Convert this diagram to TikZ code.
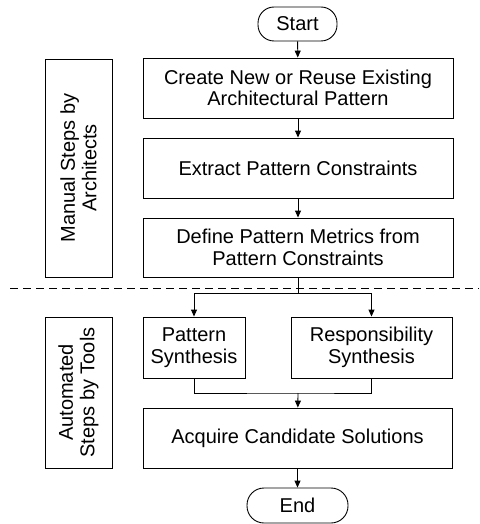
\documentclass[tikz,border=0pt]{standalone}
\usepackage{fontspec}
\setmainfont{Liberation Sans}
\usepackage{tikz}
\usetikzlibrary{shapes,positioning,arrows.meta}
\tikzset{stepbox/.style={rectangle,draw,align=center,inner sep=2pt,minimum height=60pt,minimum width=310pt},
         term/.style={rectangle,draw,rounded corners=16pt,minimum height=34pt,inner sep=2pt},
         phase/.style={rectangle,draw,align=center,rotate=90,minimum height=67pt,inner sep=2pt}}

\begin{document}
\begin{tikzpicture}[x=1pt,y=-1pt,>={Stealth[length=7pt,width=6pt,inset=0pt]},line width=0.9pt,
    font=\fontsize{20}{21.5}\selectfont]
    \useasboundingbox (0,0) rectangle (479,524);
    \node[term,minimum width=79pt] (start) at (297.5,24) {Start};
    \node[stepbox] (create) at (298,88) {Create New or Reuse Existing\\Architectural Pattern};
    \node[stepbox] (extract) at (298,168) {Extract Pattern Constraints};
    \node[stepbox,minimum height=59pt] (metrics) at (298,247.5) {Define Pattern Metrics from\\Pattern Constraints};
    \node[stepbox,minimum width=102pt,minimum height=61pt] (psyn) at (194,347.5) {Pattern\\Synthesis};
    \node[stepbox,minimum width=161pt,minimum height=61pt] (rsyn) at (371.5,347.5) {Responsibility\\Synthesis};
    \node[stepbox,minimum width=309pt] (acquire) at (297.5,438) {Acquire Candidate Solutions};
    \node[term,minimum width=101pt,minimum height=35pt,rounded corners=17pt] (end) at (297.5,505.5) {End};
    \node[phase,minimum width=218pt] (manual) at (78.5,168) {Manual Steps by\\Architects};
    \node[phase,minimum width=151pt] (auto) at (78.5,392.5) {Automated\\Steps by Tools};
    \coordinate (split) at (298,293);
    \coordinate (join) at (298,393);

    \draw [dashed,dash pattern=on 8pt off 5pt] (10,288) -- (479,288);
    \draw [->] (start) -- (create);
    \draw [->] (create) -- (extract);
    \draw [->] (extract) -- (metrics);
    \draw [] (metrics) -- (split);
    \draw [->] (split) -| (psyn);
    \draw [->] (split) -| (rsyn);
    \draw [] (psyn) |- (join) -| (rsyn);
    \draw [->] (join) -- (acquire);
    \draw [->] (acquire) -- (end);
\end{tikzpicture}
\end{document}
